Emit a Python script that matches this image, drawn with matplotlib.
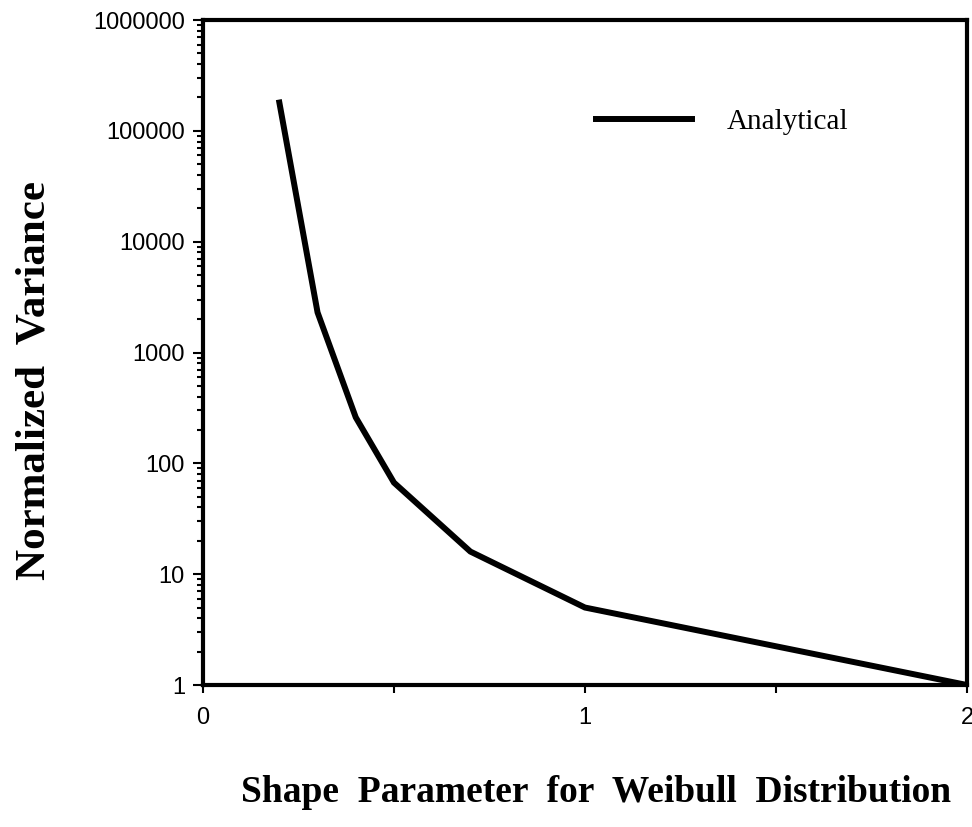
import matplotlib.pyplot as plt
from matplotlib.ticker import FixedLocator, LogLocator, NullFormatter, FuncFormatter

# --- data ---
shape_param = [0.2, 0.3, 0.4, 0.5, 0.7, 1.0, 2.0]
norm_variance = [180000, 2300, 260, 67, 16, 5, 1]

x_major = [0, 1, 2]
x_minor = [0.5, 1.5]
y_decades = [1, 10, 100, 1000, 10000, 100000, 1000000]

serif = ['Liberation Serif', 'DejaVu Serif']
sans = ['Liberation Sans', 'DejaVu Sans']

fig = plt.figure(figsize=(9.72, 8.27), dpi=100)
ax = fig.add_axes([0.2088, 0.1717, 0.786, 0.8041])

ax.plot(shape_param, norm_variance, color='black', lw=4.3,
        solid_joinstyle='miter', label='Analytical')

ax.set_yscale('log')
ax.set_xlim(0, 2)
ax.set_ylim(1, 1e6)

# ticks
ax.xaxis.set_major_locator(FixedLocator(x_major))
ax.xaxis.set_minor_locator(FixedLocator(x_minor))
ax.yaxis.set_major_locator(FixedLocator(y_decades))
ax.yaxis.set_minor_locator(LogLocator(base=10, subs=range(2, 10)))
ax.yaxis.set_minor_formatter(NullFormatter())
ax.yaxis.set_major_formatter(FuncFormatter(lambda v, p: f'{int(round(v))}'))

ax.tick_params(axis='y', which='major', direction='out', length=7, width=1.5,
               pad=6, labelsize=17)
ax.tick_params(axis='y', which='minor', direction='out', length=4, width=1.5)
ax.tick_params(axis='x', which='both', direction='out', length=6, width=1.5,
               pad=10, labelsize=17)
for lab in ax.get_xticklabels() + ax.get_yticklabels():
    lab.set_family(sans)

for s in ax.spines.values():
    s.set_linewidth(3)

# legend
ax.legend(loc='center left', bbox_to_anchor=(0.514, 0.847), frameon=False,
          borderpad=0, borderaxespad=0, handlelength=3.3, handletextpad=1.2,
          prop={'family': serif, 'size': 21})

# axis titles
fig.text(0.613, 0.0423, 'Shape  Parameter  for  Weibull  Distribution',
         ha='center', va='center', family=serif, weight='bold', fontsize=27)
fig.text(0.035, 0.5405, 'Normalized  Variance', rotation=90,
         ha='center', va='center', family=serif, weight='bold', fontsize=31)

fig.savefig('out.png', dpi=100)
